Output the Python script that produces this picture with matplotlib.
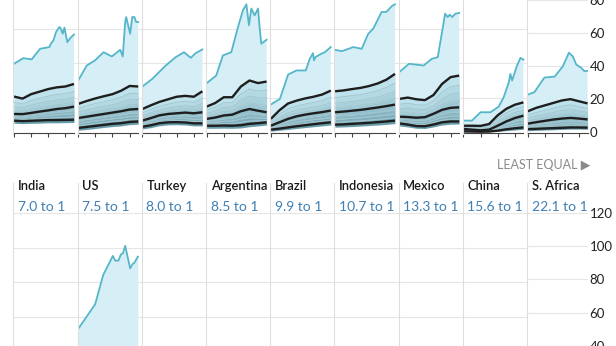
import numpy as np
import matplotlib
matplotlib.use('Agg')
import matplotlib.pyplot as plt
from matplotlib.lines import Line2D

plt.rcParams['font.family'] = ['Lato', 'DejaVu Sans']

## Data
countries = ['India', 'US', 'Turkey', 'Argentina', 'Brazil', 'Indonesia', 'Mexico', 'China', 'S. Africa']
ratios = ['7.0 to 1', '7.5 to 1', '8.0 to 1', '8.5 to 1', '9.9 to 1', '10.7 to 1', '13.3 to 1', '15.6 to 1', '22.1 to 1']

years = [1980, 1985, 1990, 1995, 2000, 2005, 2010, 2015]

# top (cyan) line, one list per country
top_years = [
    [1980, 1985.4, 1990.3, 1995.2, 2000.6, 2001.5, 2003, 2004.5, 2006.5, 2007.3, 2008.4, 2009.4, 2011.1, 2013, 2015],
    [1980, 1985, 1989.8, 1994.8, 1999.6, 2004.5, 2006, 2007.4, 2008, 2010.3, 2011.5, 2012.8, 2013.8, 2015],
    [1980, 1985.8, 1993.6, 1999.4, 2004.3, 2008.2, 2011, 2015],
    [1980, 1985.6, 1989.5, 1994.4, 1998.3, 2001.2, 2003.2, 2004.7, 2006.1, 2008, 2010, 2011, 2011.9, 2015],
    [1980, 1985.3, 1990.1, 1995, 2000.4, 2002.7, 2004.6, 2005.2, 2006, 2009.5, 2011.5, 2015],
    [1980, 1984, 1990.7, 1995.6, 1999.4, 2002.3, 2007.2, 2010, 2013, 2015],
    [1980, 1985.7, 1994.3, 1999, 2002.5, 2006.8, 2008.3, 2009.5, 2010.9, 2012.8, 2015],
    [1980, 1985, 1990, 1995.8, 2000.6, 2003.5, 2006.5, 2007.4, 2008.4, 2011.3, 2013.3, 2015],
    [1980, 1984, 1989.8, 1995.8, 2000.6, 2004.1, 2006.4, 2008.4, 2011.3, 2013, 2015],
]
top_vals = [
    [39.8, 43.1, 42.4, 48.6, 49.6, 51.6, 53.5, 58.4, 61.4, 60.4, 57.4, 61.0, 52.5, 55.1, 57.0],
    [30.0, 38.8, 41.8, 46.6, 44.1, 48.0, 44.1, 64.3, 67.2, 57.4, 67.2, 67.2, 64.3, 64.3],
    [26.5, 31.0, 38.8, 43.7, 46.6, 43.3, 46.0, 48.2],
    [28.4, 32.9, 44.7, 46.6, 61.3, 71.2, 74.7, 62.4, 72.2, 68.2, 72.2, 60.4, 51.6, 53.9],
    [15.9, 19.2, 33.5, 35.9, 35.9, 42.7, 46.0, 41.8, 43.7, 45.7, 46.6, 49.6],
    [48.0, 47.2, 49.6, 48.6, 57.4, 60.4, 70.2, 70.2, 73.5, 74.7],
    [34.9, 39.8, 38.8, 42.7, 43.7, 69.2, 67.2, 68.6, 67.2, 69.2, 69.6],
    [6.5, 6.5, 11.4, 11.4, 14.7, 20.2, 29.0, 33.9, 30.0, 38.8, 43.3, 42.2],
    [22.5, 24.1, 32.9, 33.5, 39.8, 48.0, 45.7, 40.8, 38.8, 36.9, 36.9],
]

# inner lines: d9, d5, d1 are dark, the others light grey
d9 = [[20.6, 19.4, 22.0, 23.5, 25.0, 26.0, 26.5, 28.0],
      [16.3, 18.0, 19.5, 20.8, 22.0, 24.0, 26.8, 26.5],
      [13.3, 15.5, 17.5, 19.0, 20.5, 21.0, 20.5, 23.7],
      [14.7, 16.8, 20.2, 20.2, 26.5, 30.0, 28.5, 29.4],
      [7.5, 12.5, 16.5, 18.2, 19.5, 20.5, 21.8, 24.1],
      [23.7, 24.2, 25.0, 25.7, 26.8, 28.3, 30.5, 33.9],
      [19.2, 20.0, 19.0, 18.5, 21.5, 28.0, 32.0, 32.9],
      [3.5, 3.5, 3.4, 4.5, 9.6, 13.4, 15.8, 17.2],
      [12.4, 14.5, 16.0, 17.5, 19.0, 19.8, 18.5, 17.2]]
d8 = [[17.2, 16.3, 18.3, 19.6, 20.8, 21.8, 22.3, 23.6],
      [13.8, 15.2, 16.5, 17.6, 18.7, 20.3, 22.4, 22.5],
      [11.1, 13.0, 14.8, 16.1, 17.3, 17.8, 17.3, 19.7],
      [12.6, 14.3, 17.0, 17.1, 22.2, 25.0, 23.8, 24.2],
      [6.1, 10.1, 13.4, 15.0, 16.2, 17.1, 18.2, 20.2],
      [20.0, 20.5, 21.2, 21.8, 22.8, 24.1, 25.9, 28.5],
      [16.1, 16.7, 15.8, 15.5, 18.0, 23.2, 26.4, 27.3],
      [2.9, 2.7, 2.6, 3.7, 7.7, 11.0, 13.3, 14.6],
      [10.0, 11.7, 13.0, 14.3, 15.6, 16.3, 15.2, 14.2]]
d7 = [[14.6, 14.0, 15.6, 16.7, 17.7, 18.6, 19.1, 20.2],
      [11.6, 12.8, 13.9, 14.9, 15.8, 17.1, 18.8, 18.9],
      [9.3, 11.0, 12.7, 13.8, 14.7, 15.1, 14.7, 16.5],
      [10.7, 12.1, 14.3, 14.5, 18.6, 20.9, 19.8, 19.8],
      [5.0, 8.3, 11.0, 12.5, 13.6, 14.4, 15.3, 17.0],
      [16.8, 17.2, 17.8, 18.4, 19.3, 20.3, 21.8, 23.8],
      [13.4, 13.9, 13.1, 13.0, 15.1, 19.2, 22.0, 22.7],
      [2.4, 2.1, 1.9, 2.7, 6.1, 9.0, 11.2, 12.4],
      [8.1, 9.5, 10.6, 11.7, 12.8, 13.4, 12.6, 11.7]]
d6 = [[12.4, 12.0, 13.1, 14.1, 14.9, 15.8, 16.3, 17.3],
      [9.7, 10.7, 11.7, 12.6, 13.4, 14.4, 15.7, 16.0],
      [7.8, 9.4, 11.0, 11.9, 12.6, 13.0, 12.6, 13.8],
      [9.0, 10.1, 11.8, 12.1, 15.1, 16.9, 15.9, 15.4],
      [4.2, 6.8, 9.1, 10.6, 11.6, 12.4, 13.2, 14.4],
      [14.0, 14.4, 14.9, 15.4, 16.2, 17.0, 18.2, 19.7],
      [11.0, 11.1, 10.5, 10.6, 12.6, 15.7, 17.8, 18.3],
      [2.0, 1.6, 1.3, 1.9, 4.7, 7.4, 9.5, 10.8],
      [6.4, 7.5, 8.5, 9.4, 10.3, 10.8, 10.2, 9.5]]
d5 = [[10.4, 10.3, 11.0, 11.8, 12.5, 13.3, 13.8, 14.7],
      [8.0, 8.8, 9.6, 10.4, 11.2, 12.0, 13.0, 13.3],
      [6.5, 8.0, 9.6, 10.4, 10.8, 11.2, 10.8, 11.4],
      [7.5, 8.3, 9.5, 10.0, 12.0, 13.3, 12.3, 11.4],
      [3.5, 5.5, 7.5, 9.0, 10.0, 10.8, 11.5, 12.4],
      [11.4, 11.8, 12.3, 12.8, 13.5, 14.2, 15.0, 15.9],
      [8.8, 8.6, 8.2, 8.5, 10.5, 12.8, 14.0, 14.3],
      [1.6, 1.2, 0.8, 1.2, 3.5, 6.0, 8.0, 9.4],
      [4.9, 5.8, 6.6, 7.4, 8.0, 8.4, 8.0, 7.5]]
d4 = [[9.2, 9.1, 9.6, 10.3, 10.8, 11.4, 11.8, 12.5],
      [6.5, 7.2, 7.9, 8.6, 9.3, 9.9, 10.8, 11.1],
      [5.2, 6.6, 8.1, 8.8, 9.2, 9.4, 9.0, 9.4],
      [6.2, 6.8, 7.6, 8.0, 9.5, 10.7, 10.1, 9.6],
      [2.8, 4.4, 6.0, 7.3, 8.2, 8.9, 9.5, 10.3],
      [9.2, 9.5, 9.9, 10.3, 10.9, 11.5, 12.1, 12.9],
      [7.5, 7.1, 6.6, 6.8, 8.5, 10.3, 11.4, 11.6],
      [1.2, 0.9, 0.5, 0.8, 2.5, 4.5, 6.1, 7.1],
      [3.8, 4.5, 5.1, 5.7, 6.2, 6.5, 6.3, 5.9]]
d3 = [[8.2, 8.0, 8.5, 9.0, 9.5, 9.9, 10.2, 10.7],
      [4.9, 5.6, 6.3, 7.0, 7.6, 8.1, 8.9, 9.2],
      [4.3, 5.5, 6.8, 7.4, 7.7, 7.7, 7.3, 7.5],
      [5.2, 5.6, 6.1, 6.3, 7.4, 8.3, 8.1, 7.9],
      [2.1, 3.3, 4.5, 5.6, 6.4, 7.1, 7.6, 8.3],
      [7.2, 7.5, 7.9, 8.2, 8.7, 9.2, 9.7, 10.3],
      [6.5, 6.0, 5.3, 5.4, 6.8, 8.4, 9.1, 9.3],
      [0.8, 0.6, 0.3, 0.5, 1.7, 3.2, 4.4, 5.2],
      [2.9, 3.4, 3.9, 4.3, 4.7, 5.0, 4.8, 4.5]]
d2 = [[7.3, 7.1, 7.4, 7.7, 8.1, 8.3, 8.5, 8.8],
      [3.5, 4.2, 4.8, 5.5, 6.1, 6.5, 7.3, 7.6],
      [3.5, 4.6, 5.8, 6.3, 6.5, 6.4, 6.0, 6.1],
      [4.3, 4.5, 4.8, 4.9, 5.5, 6.3, 6.4, 6.6],
      [1.6, 2.5, 3.4, 4.3, 5.0, 5.7, 6.2, 6.8],
      [5.5, 5.8, 6.1, 6.4, 6.8, 7.3, 7.7, 8.2],
      [5.6, 5.0, 4.2, 4.2, 5.4, 6.8, 7.4, 7.5],
      [0.5, 0.3, 0.1, 0.3, 1.1, 2.2, 3.0, 3.7],
      [2.2, 2.5, 2.9, 3.2, 3.5, 3.7, 3.6, 3.4]]
d1 = [[6.5, 6.2, 6.4, 6.6, 6.8, 6.8, 6.9, 7.0],
      [2.2, 2.8, 3.4, 4.0, 4.6, 5.0, 5.7, 6.0],
      [2.9, 3.8, 5.0, 5.5, 5.6, 5.4, 4.9, 4.9],
      [3.5, 3.5, 3.6, 3.5, 3.8, 4.6, 5.0, 5.5],
      [1.2, 1.8, 2.5, 3.2, 3.8, 4.4, 5.0, 5.5],
      [4.1, 4.3, 4.6, 4.9, 5.2, 5.6, 6.0, 6.5],
      [4.9, 4.2, 3.3, 3.2, 4.2, 5.5, 6.0, 6.0],
      [0.2, 0.1, 0.0, 0.1, 0.6, 1.4, 2.0, 2.5],
      [1.6, 1.8, 2.0, 2.2, 2.4, 2.6, 2.6, 2.5]]
base = [[4.9, 4.7, 4.9, 5.0, 5.2, 5.2, 5.3, 5.4],
        [0.8, 1.3, 1.9, 2.5, 3.0, 3.4, 4.1, 4.4],
        [1.6, 2.4, 3.5, 4.0, 4.1, 3.9, 3.4, 3.4],
        [2.0, 2.0, 2.1, 2.0, 2.2, 2.9, 3.4, 3.9],
        [0.3, 0.8, 1.3, 1.9, 2.4, 2.9, 3.4, 3.9],
        [2.6, 2.8, 3.0, 3.3, 3.6, 3.9, 4.3, 4.7],
        [3.4, 2.8, 2.0, 1.9, 2.8, 3.9, 4.4, 4.5],
        [0.0, 0.0, 0.0, 0.0, 0.2, 0.6, 1.0, 1.4],
        [0.6, 0.8, 1.0, 1.2, 1.4, 1.6, 1.6, 1.5]]

# lower chart: only the US line is inside the visible range
us_years = [1980.2, 1989.9, 1994.6, 2000.2, 2001.6, 2003.5, 2004.9, 2006.1, 2007.4, 2008.8, 2010.3, 2011.7, 2012.8, 2014.8]
us_vals = [53.1, 67.1, 84.1, 95.1, 92.4, 92.4, 96.0, 96.6, 101.0, 94.7, 87.9, 90.4, 91.2, 94.7]

top_ticks = [0, 20, 40, 60, 80]
low_ticks = [40, 60, 80, 100, 120]

## Styling
W, H = 616, 346
cyan = '#55b6ca'
light = '#d6eff6'
grid_c = '#e6e6e6'
sep_c = '#dedede'
band_cols = [np.array([190, 226, 236]) * (1 - t) + np.array([104, 156, 171]) * t for t in np.linspace(0, 1, 9)]
band_cols = [tuple(c / 255) for c in band_cols]

fig = plt.figure(figsize=(W / 100, H / 100), dpi=100)
lefts = [14 + 64.2 * i for i in range(9)]

# top chart
top_h = 133.3
for i in range(9):
    w = 64.2 if i < 8 else 60.4
    ax = fig.add_axes([lefts[i] / W, (H - top_h) / H, w / W, top_h / H])
    ax.set_xlim(1980, 1980 + w / 60 * 35)
    ax.set_ylim(-0.94, 77.2)
    for v in top_ticks[1:]:
        ax.axhline(v, color=grid_c, lw=0.8, zorder=0)

    lines = [d9[i], d8[i], d7[i], d6[i], d5[i], d4[i], d3[i], d2[i], d1[i], base[i]]
    # lightest area, from the top line down to the lowest line
    poly_x = list(top_years[i]) + years[::-1]
    poly_y = list(top_vals[i]) + base[i][::-1]
    ax.fill(poly_x, poly_y, color=light, lw=0, zorder=1)
    for k in range(9):
        ax.fill_between(years, lines[k], lines[k + 1], color=band_cols[k], lw=0, zorder=2)
    for k, l in enumerate(lines[:-1]):
        if k in (0, 4, 8):
            ax.plot(years, l, color='#1e1e1e', lw=1.7, zorder=4, solid_capstyle='butt')
        else:
            ax.plot(years, l, color='#a4c6cf', lw=0.7, zorder=3)
    ax.plot(top_years[i], top_vals[i], color=cyan, lw=1.3, zorder=5)

    for s in ['top', 'left', 'right']:
        ax.spines[s].set_visible(False)
    ax.spines['bottom'].set_bounds(1980, 2015)
    ax.spines['bottom'].set_color('#444444')
    ax.spines['bottom'].set_linewidth(0.8)
    ax.set_xticks([1980, 1990, 2000, 2010])
    ax.tick_params(axis='x', length=3, width=0.8, color='#444444', labelbottom=False)
    if i == 8:
        ax.yaxis.tick_right()
        ax.set_yticks(top_ticks)
        ax.tick_params(axis='y', length=0, pad=1, labelsize=9.5, labelcolor='#222222')
    else:
        ax.set_yticks([])

# lower chart
low_h = 134
for i in range(9):
    w = 64.2 if i < 8 else 60.4
    ax = fig.add_axes([lefts[i] / W, 0, w / W, low_h / H])
    ax.set_xlim(1980, 1980 + w / 60 * 35)
    ax.set_ylim(42.9, 120.58)
    for v in low_ticks:
        ax.axhline(v, color=grid_c, lw=0.8, zorder=0)
    if countries[i] == 'US':
        ax.fill_between(us_years, us_vals, 0, color=light, lw=0, zorder=1)
        ax.plot(us_years, us_vals, color=cyan, lw=1.3, zorder=3)
    for s in ax.spines.values():
        s.set_visible(False)
    ax.set_xticks([])
    if i == 8:
        ax.yaxis.tick_right()
        ax.set_yticks(low_ticks)
        ax.tick_params(axis='y', length=0, pad=1, labelsize=9.5, labelcolor='#222222')
    else:
        ax.set_yticks([])

# panel separators
for x in lefts:
    xf = (x - 0.7) / W
    fig.add_artist(Line2D([xf, xf], [1, (H - top_h - 1) / H], color=sep_c, lw=0.8))
    fig.add_artist(Line2D([xf, xf], [(H - 183) / H, 0], color=sep_c, lw=0.8))

# headers
for i in range(9):
    fig.text((lefts[i] + 4) / W, (H - 186) / H, countries[i], fontsize=9.3,
             fontweight='semibold', color='#1a1a1a', va='center', ha='left')
    fig.text((lefts[i] + 4) / W, (H - 207) / H, ratios[i], fontsize=10,
             color='#3f7fb3', va='center', ha='left')
fig.text(590 / W, (H - 165) / H, 'LEAST EQUAL \u25b6', fontsize=9, color='#8a8a8a',
         va='center', ha='right')

fig.savefig('out.png', dpi=100)
